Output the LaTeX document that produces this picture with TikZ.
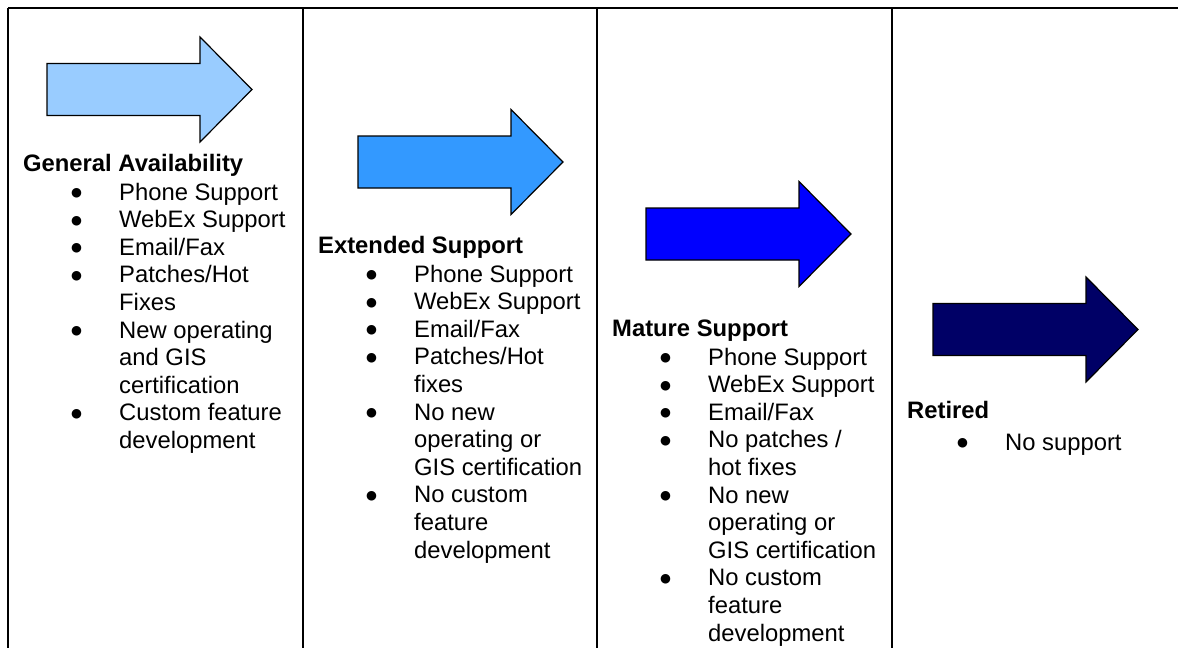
\documentclass[tikz,border=0pt]{standalone}
\usepackage{fontspec}
\setmainfont{Liberation Sans}
\newfontfamily\dotfont{DejaVu Sans}
\usepackage{xcolor}
\usepackage{tikz}
\usetikzlibrary{positioning}
\definecolor{gaBlue}{HTML}{99CCFF}
\definecolor{esBlue}{HTML}{3399FF}
\definecolor{msBlue}{HTML}{0000FF}
\definecolor{rtBlue}{HTML}{000066}
\tikzset{
phase/.style = {anchor = base west, inner sep = 0pt, font = \fontsize{23.8}{27.6}\selectfont\bfseries},
bullets/.style = {anchor = base west, inner sep = 0pt},
rule/.style = {draw = black, line width = 2pt},
}
\tikzset{
pics/phase arrow/.style args={#1}{
        code = {
        \path[draw = black, fill = #1, line width = 1.2pt] (0, -26) -- (153, -26) -- (153, -52.5) -- (205, 0) -- (153, 52.5) -- (153, 26) -- (0, 26) -- cycle;
        }
    }
}
\newcommand{\dotmark}{\raisebox{3.5pt}{\dotfont\fontsize{12.5}{12.5}\selectfont ●}}
\newcommand{\phaselist}[1]{\begin{tabular}[t]{@{}p{48pt}@{}l@{}}#1\end{tabular}}

\begin{document}
\begin{tikzpicture}[x = 1pt, y = -1pt, font = \fontsize{23.8}{27.6}\selectfont]
    \useasboundingbox (0, 0) rectangle (1178, 648);
    % table rules
    \draw[rule] (8, 8) -- (1178, 8);
    \draw[rule] (8, 8) -- (8, 648);
    \draw[rule] (303, 8) -- (303, 648);
    \draw[rule] (597, 8) -- (597, 648);
    \draw[rule] (892, 8) -- (892, 648);
    % arrows
    \draw (47, 89.5) pic{phase arrow = gaBlue};
    \draw (358, 162) pic{phase arrow = esBlue};
    \draw (646, 234) pic{phase arrow = msBlue};
    \draw (933, 329.5) pic{phase arrow = rtBlue};
    % general availability
    \node[phase] (ga head) at (23, 171) {General Availability};
    \node[bullets] (ga list) at (71, 200) {\phaselist{
        \dotmark & Phone Support\\
        \dotmark & WebEx Support\\
        \dotmark & Email/Fax\\
        \dotmark & Patches/Hot\\
                 & Fixes\\
        \dotmark & New operating\\
                 & and GIS\\
                 & certification\\
        \dotmark & Custom feature\\
                 & development}};
    % extended support
    \node[phase] (es head) at (318, 253) {Extended Support};
    \node[bullets] (es list) at (366, 282) {\phaselist{
        \dotmark & Phone Support\\
        \dotmark & WebEx Support\\
        \dotmark & Email/Fax\\
        \dotmark & Patches/Hot\\
                 & fixes\\
        \dotmark & No new\\
                 & operating or\\
                 & GIS certification\\
        \dotmark & No custom\\
                 & feature\\
                 & development}};
    % mature support
    \node[phase] (ms head) at (612, 336) {Mature Support};
    \node[bullets] (ms list) at (660, 365) {\phaselist{
        \dotmark & Phone Support\\
        \dotmark & WebEx Support\\
        \dotmark & Email/Fax\\
        \dotmark & No patches /\\
                 & hot fixes\\
        \dotmark & No new\\
                 & operating or\\
                 & GIS certification\\
        \dotmark & No custom\\
                 & feature\\
                 & development}};
    % retired
    \node[phase] (rt head) at (907, 418) {Retired};
    \node[bullets] (rt list) at (957, 450) {\phaselist{
        \dotmark & No support}};
\end{tikzpicture}
\end{document}
